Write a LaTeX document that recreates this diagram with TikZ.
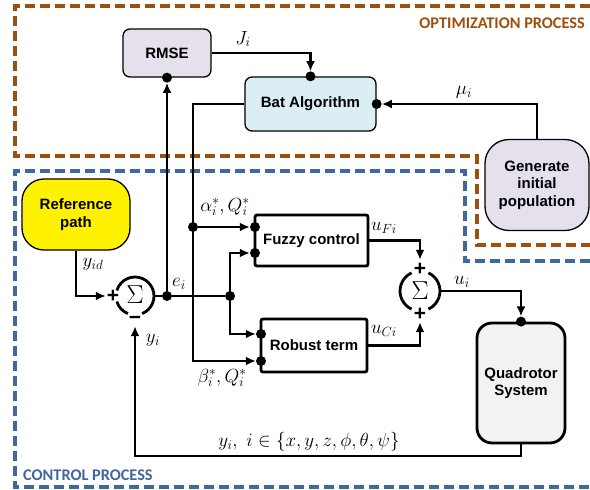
\documentclass[tikz,border=0pt]{standalone}
\usepackage{fix-cm}
\usepackage{fontspec}
\setsansfont{Liberation Sans}
\newfontfamily\calfont{Carlito}
\usetikzlibrary{arrows.meta,positioning}
\definecolor{optOrange}{HTML}{9E4F0E}
\definecolor{ctlBlue}{HTML}{41679F}
\definecolor{lilacFill}{HTML}{E6E0EC}
\definecolor{batFill}{HTML}{DAEEF3}
\definecolor{quadFill}{HTML}{F2F2F2}

\tikzset{
    blk/.style={draw, rounded corners=7pt, line width=1.3pt, align=center, inner sep=2pt,
        font=\sffamily\bfseries\fontsize{15}{17.5}\selectfont},
    ctl/.style={blk, rounded corners=2pt, line width=2.8pt, fill=white},
    wire/.style={line width=2.8pt},
    arr/.style={wire, -{Latex[length=10pt,width=9pt]}},
    dot/.style={circle, fill, inner sep=0pt, minimum size=10pt},
    lbl/.style={inner sep=0pt, font=\fontsize{19}{22}\selectfont},
    sgn/.style={inner sep=0pt, font=\sffamily\bfseries\fontsize{21}{21}\selectfont},
    ring/.style={circle, inner sep=0pt},
    sigma/.style={inner sep=0pt, font=\fontsize{26}{28}\selectfont},
    region/.style={line width=3.5pt, dash pattern=on 10pt off 5pt},
    tag/.style={inner sep=0pt, font=\calfont\bfseries\fontsize{16.3}{18}\selectfont},
}

\begin{document}
\begin{tikzpicture}[x=1pt, y=-1pt]
    \useasboundingbox (0,0) rectangle (590,490);

    % process regions
    \draw[region, optOrange] (590,6) -- (15,6) -- (15,156) -- (477,156) -- (477,245) -- (590,245);
    \draw[region, ctlBlue] (590,261) -- (465,261) -- (465,171) -- (15,171) -- (15,487) -- (590,487);
    \node[tag, text=optOrange, anchor=east] (o) at (585,23) {OPTIMIZATION PROCESS};
    \node[tag, text=ctlBlue, anchor=west] (c) at (23,475) {CONTROL PROCESS};

    % blocks
    \node[blk, fill=lilacFill, minimum width=88pt, minimum height=48pt] (1) at (167,53) {RMSE};
    \node[blk, fill=batFill, minimum width=131pt, minimum height=54pt] (2) at (310.5,104) {Bat Algorithm};
    \node[blk, fill=lilacFill, rounded corners=24pt, minimum width=104pt, minimum height=91pt] (3) at (537,185) {Generate\\initial\\population};
    \node[blk, fill=yellow, rounded corners=22pt, minimum width=108pt, minimum height=71pt] (4) at (76,214.5) {Reference\\path};
    \node[ctl, minimum width=113pt, minimum height=51pt] (5) at (311.5,240.5) {Fuzzy control};
    \node[ctl, minimum width=106pt, minimum height=53pt] (6) at (314,345.5) {Robust term};
    \node[blk, fill=quadFill, rounded corners=15pt, line width=2.8pt, minimum width=88pt, minimum height=120pt] (7) at (521,383) {Quadrotor\\System};

    % summing junctions
    \node[ring, minimum size=38pt] (s1) at (135,296) {};
    \node[ring, minimum size=40pt] (s2) at (420,291) {};
    \node[sigma] (S1) at (135,295) {$\Sigma$};
    \node[sigma] (S2) at (s2) {$\Sigma$};
    \draw[wire] (s1.center) ++(197:19pt) arc[start angle=197, end angle=248, radius=19pt];
    \draw[wire] (s1.center) ++(292:19pt) arc[start angle=292, end angle=523, radius=19pt];
    \draw[wire] (s2.center) ++(115:20pt) arc[start angle=115, end angle=245, radius=20pt];
    \draw[wire] (s2.center) ++(-65:20pt) arc[start angle=-65, end angle=65, radius=20pt];
    \node[sgn] (p1) at (113,296) {+};
    \node[sgn] (m1) at (135,320) {−};
    \node[sgn] (p2) at (420,269) {+};
    \node[sgn] (p3) at (420,314) {+};

    % junction dots
    \node[dot] (a) at (1.south) {};
    \node[dot] (b) at (2.north) {};
    \node[dot] (d) at (2.east) {};
    \node[dot] (e) at (167,296) {};
    \node[dot] (f) at (230,296) {};
    \node[dot] (g) at (193,227) {};
    \node[dot] (h) at (255,227) {};
    \node[dot] (i) at (255,253) {};
    \node[dot] (j) at (261,334) {};
    \node[dot] (k) at (261,361) {};
    \node[dot] (q) at (7.north) {};
    \coordinate (u) at (193,361);
    \coordinate (v) at (135,456);

    % connectors
    \draw[arr] (e) -- (a);
    \draw[arr] (1.east) -| (b);
    \draw[arr] (3.north) |- (d);
    \draw[arr] (2.west) -| (u) -- (k);
    \draw[arr] (g) -- (h);
    \draw[arr, shorten >=10pt] (4.south) |- (s1.west);
    \draw[wire] (s1.east) -- (e) -- (f);
    \draw[arr] (f) |- (i);
    \draw[arr] (f) |- (j);
    \draw[arr, shorten >=11pt] (5.east) -| (s2.north);
    \draw[arr, shorten >=11pt] (6.east) -| (s2.south);
    \draw[arr] (s2.east) -| (q);
    \draw[arr, shorten >=11pt] (7.south) |- (v) -- (s1.south);

    % signal labels
    \node[lbl] (l1) at (243,39) {$J_i$};
    \node[lbl] (l2) at (464,92) {$\mu_i$};
    \node[lbl] (l3) at (225,207) {$\alpha_i^*, Q_i^*$};
    \node[lbl] (l4) at (222,378) {$\beta_i^*, Q_i^*$};
    \node[lbl] (l5) at (93,264) {$y_{id}$};
    \node[lbl] (l6) at (179,284) {$e_i$};
    \node[lbl] (l7) at (153,340) {$y_i$};
    \node[lbl] (l8) at (384,228) {$u_{Fi}$};
    \node[lbl] (l9) at (384,331) {$u_{Ci}$};
    \node[lbl] (l10) at (462,282) {$u_i$};
    \node[lbl] (l11) at (309,442) {$y_i,\ i\in\{x,y,z,\phi,\theta,\psi\}$};
\end{tikzpicture}
\end{document}
